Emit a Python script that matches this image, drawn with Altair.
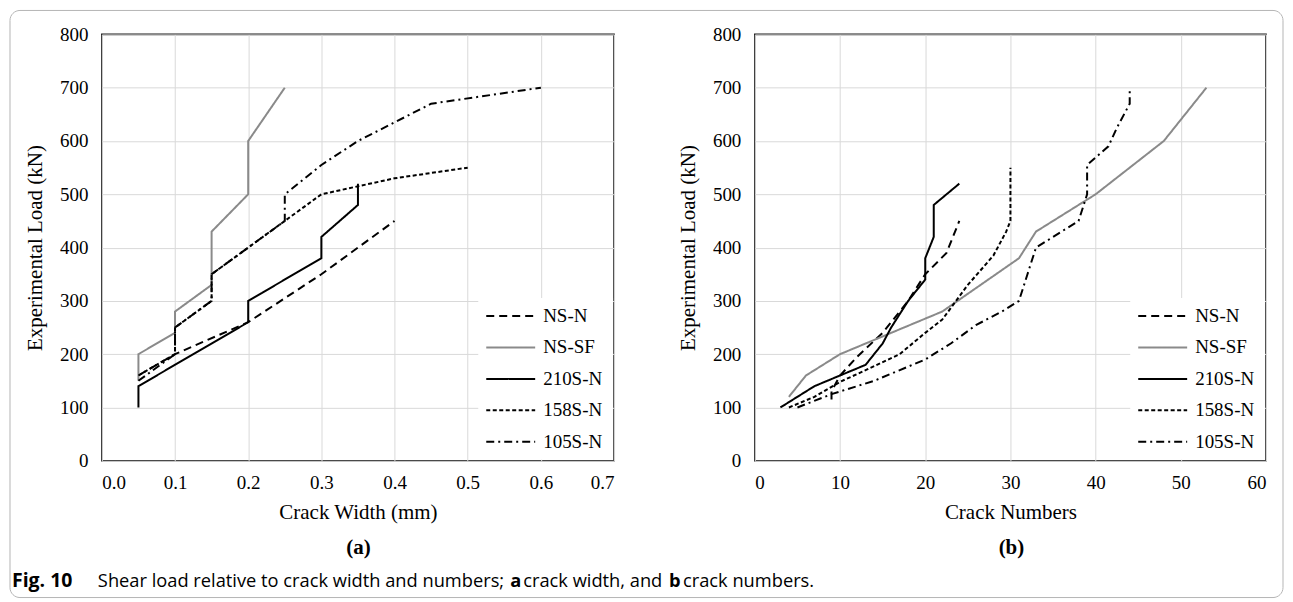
import altair as alt
import pandas as pd

SERIES = ["NS-N", "NS-SF", "210S-N", "158S-N", "105S-N"]
COLORS = ["#000000", "#8a8a8a", "#000000", "#000000", "#000000"]
DASHES = [[8, 5], [1, 0], [1, 0], [4, 2.5], [8, 4, 2, 4]]

# ---- Panel (a): crack width (mm) vs experimental load (kN)
a_nsn_w = [0.05, 0.10, 0.20, 0.30, 0.40]
a_nsn_p = [160, 200, 260, 350, 450]
a_nssf_w = [0.05, 0.05, 0.10, 0.10, 0.15, 0.15, 0.20, 0.20, 0.25]
a_nssf_p = [150, 200, 240, 280, 330, 430, 500, 600, 700]
a_210_w = [0.05, 0.05, 0.20, 0.20, 0.30, 0.30, 0.35, 0.35]
a_210_p = [100, 140, 260, 300, 380, 420, 480, 520]
a_158_w = [0.05, 0.10, 0.10, 0.15, 0.15, 0.30, 0.40, 0.50]
a_158_p = [160, 200, 250, 300, 350, 500, 530, 550]
a_105_w = [0.05, 0.10, 0.10, 0.15, 0.15, 0.25, 0.25, 0.30, 0.35, 0.40, 0.45, 0.60]
a_105_p = [150, 200, 250, 300, 350, 450, 500, 555, 600, 635, 670, 700]

# ---- Panel (b): crack numbers vs experimental load (kN)
b_nsn_n = [9, 9, 10, 12, 15, 18, 20, 22.5, 24]
b_nsn_p = [115, 130, 160, 195, 240, 300, 350, 390, 450]
b_nssf_n = [4, 6, 10, 22, 31, 33, 40, 48, 53]
b_nssf_p = [120, 160, 200, 280, 380, 430, 500, 600, 700]
b_210_n = [3, 7, 10, 13, 15, 16, 18, 20, 20, 21, 21, 24]
b_210_p = [100, 140, 160, 180, 220, 250, 300, 340, 380, 420, 480, 520]
b_158_n = [4, 7, 10, 13, 17, 20, 22, 25, 28, 29.5, 30, 30]
b_158_p = [100, 120, 148, 170, 200, 240, 265, 330, 385, 430, 450, 550]
b_105_n = [5, 9, 14, 20, 23, 26, 29, 31, 32, 33, 38, 39, 39, 41.5, 42.5, 44, 44]
b_105_p = [100, 125, 150, 190, 220, 255, 280, 300, 350, 400, 450, 500, 555, 590, 625, 670, 700]

A_TICKS = [0.0, 0.1, 0.2, 0.3, 0.4, 0.5, 0.6, 0.7]
B_TICKS = [0, 10, 20, 30, 40, 50, 60]
Y_TICKS = [0, 100, 200, 300, 400, 500, 600, 700, 800]

SERIF = "Liberation Serif"
SANS = "Open Sans"


def make_df(pairs, xname):
    rows = []
    for s, (xs, ps) in zip(SERIES, pairs):
        for i, (x, p) in enumerate(zip(xs, ps)):
            rows.append({"series": s, xname: x, "load": p, "idx": i})
    return pd.DataFrame(rows)


df_a = make_df([(a_nsn_w, a_nsn_p), (a_nssf_w, a_nssf_p), (a_210_w, a_210_p),
                (a_158_w, a_158_p), (a_105_w, a_105_p)], "x")
df_b = make_df([(b_nsn_n, b_nsn_p), (b_nssf_n, b_nssf_p), (b_210_n, b_210_p),
                (b_158_n, b_158_p), (b_105_n, b_105_p)], "x")
legend_df = pd.DataFrame({"series": SERIES})

color_enc = alt.Color("series:N", scale=alt.Scale(domain=SERIES, range=COLORS), legend=None)
dash_enc = alt.StrokeDash("series:N", scale=alt.Scale(domain=SERIES, range=DASHES), legend=None)


def text_seg(txt, x, y, font, size, weight="normal", align="left", baseline="alphabetic"):
    return alt.Chart(pd.DataFrame({"t": [txt]})).mark_text(
        font=font, fontSize=size, fontWeight=weight, align=align, baseline=baseline, color="#000"
    ).encode(x=alt.value(x), y=alt.value(y), text="t:N")


def panel(df, width, xtitle, xdomain, xticks, xfmt, label, extra):
    lines = alt.Chart(df).mark_line(strokeWidth=2, strokeCap="butt").encode(
        x=alt.X("x:Q", scale=alt.Scale(domain=xdomain, nice=False, zero=False),
                axis=alt.Axis(values=xticks, format=xfmt, title=xtitle)),
        y=alt.Y("load:Q", scale=alt.Scale(domain=[0, 800], nice=False),
                axis=alt.Axis(values=Y_TICKS, title="Experimental Load (kN)")),
        color=color_enc,
        strokeDash=dash_enc,
        order=alt.Order("idx:Q"),
    )
    box = alt.Chart(pd.DataFrame({"k": [0]})).mark_rect(fill="white").encode(
        x=alt.value(width - 136), x2=alt.value(width - 1),
        y=alt.value(264), y2=alt.value(426),
    )
    ly = alt.Y("series:N", scale=alt.Scale(type="point", domain=SERIES, range=[282, 408], padding=0), axis=None)
    rules = alt.Chart(legend_df).mark_rule(strokeWidth=2, strokeCap="butt").encode(
        x=alt.value(width - 128), x2=alt.value(width - 79), y=ly,
        color=color_enc, strokeDash=dash_enc,
    )
    texts = alt.Chart(legend_df).mark_text(
        font=SERIF, fontSize=19, align="left", baseline="middle", color="#000"
    ).encode(x=alt.value(width - 71), y=ly, text="series:N")
    lab = text_seg(label, 257, 514, SERIF, 21, weight="bold", align="center", baseline="middle")
    layers = [lines, box, rules, texts, lab] + extra
    return alt.layer(*layers).resolve_scale(y="independent").properties(width=width, height=427)


frame = alt.Chart(pd.DataFrame({"k": [0]})).mark_rect(
    fillOpacity=0, stroke="#b5b5b5", strokeWidth=1, cornerRadius=10
).encode(x=alt.value(-92), x2=alt.value(1183), y=alt.value(-24), y2=alt.value(564))

CAP = 18.3
caption = [
    text_seg("Fig. 10", -90, 553, SANS, 19.5, weight="bold"),
    text_seg("Shear load relative to crack width and numbers;", -4, 553, SANS, CAP),
    text_seg("a", 409, 553, SANS, CAP, weight="bold"),
    text_seg("crack width, and", 422, 553, SANS, CAP),
    text_seg("b", 568, 553, SANS, CAP, weight="bold"),
    text_seg("crack numbers.", 582, 553, SANS, CAP),
]

left = panel(df_a, 513, "Crack Width (mm)", [0, 0.7], A_TICKS, ".1f", "(a)", [frame] + caption)
right = panel(df_b, 512, "Crack Numbers", [0, 60], B_TICKS, "d", "(b)", [])

chart = alt.hconcat(left, right, spacing=141, bounds="flush").properties(
    padding=0
).configure_view(
    stroke="#1a1a1a", strokeWidth=1.6
).configure_axis(
    grid=True, gridColor="#d9d9d9", gridWidth=1, domain=False, ticks=False,
    labelFont=SERIF, labelFontSize=19, labelColor="#000", labelPadding=13,
    titleFont=SERIF, titleFontSize=21, titleFontWeight="normal", titleColor="#000",
    titlePadding=9,
).configure_axisY(
    labelPadding=14, titlePadding=14
)

chart.save("out.html", embed_options={"renderer": "svg", "actions": False})
